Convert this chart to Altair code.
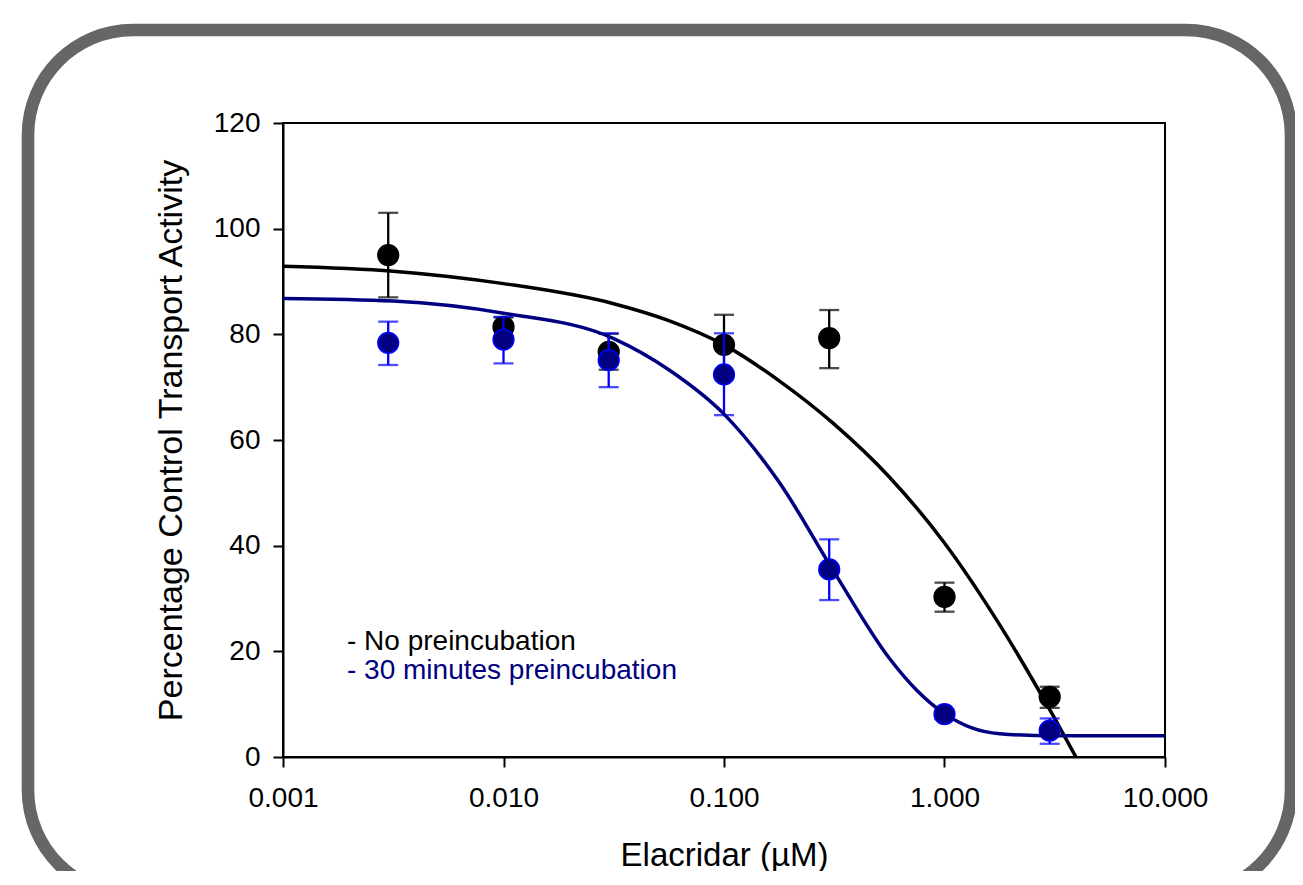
import altair as alt
import pandas as pd

# ---- data ----
conc = [0.003, 0.01, 0.03, 0.1, 0.3, 1.0, 3.0]

no_pre_mean = [95.0, 81.4, 76.7, 78.0, 79.3, 30.3, 11.4]
no_pre_lo = [87.0, 79.6, 73.3, 72.3, 73.6, 27.5, 9.3]
no_pre_hi = [103.0, 83.2, 80.1, 83.7, 84.6, 33.0, 13.3]

pre30_mean = [78.4, 79.0, 75.1, 72.4, 35.5, 8.1, 5.0]
pre30_lo = [74.2, 74.5, 70.0, 64.7, 29.7, 7.3, 2.5]
pre30_hi = [82.4, 83.3, 80.2, 80.2, 41.2, 8.9, 7.3]

# fitted curves at roughly quarter-decade steps
fit_no_pre_x = [0.001, 0.00316, 0.01, 0.0316, 0.0562, 0.1, 0.178, 0.316, 0.562, 1.0, 1.78, 3.16, 3.98]
fit_no_pre_y = [92.9, 91.95, 89.6, 85.8, 82.6, 78.0, 71.2, 63.0, 53.0, 40.5, 25.0, 7.3, -0.3]

fit_pre30_x = [0.001, 0.00316, 0.01, 0.0316, 0.0562, 0.1, 0.178, 0.316, 0.562, 0.75, 1.0, 1.33, 1.78, 3.16, 10.0]
fit_pre30_y = [86.8, 86.3, 84.0, 79.2, 73.3, 64.9, 52.0, 35.0, 18.7, 12.6, 8.2, 5.5, 4.4, 4.0, 4.0]

x_ticks = [0.001, 0.01, 0.1, 1, 10]
y_ticks = [0, 20, 40, 60, 80, 100, 120]

legend_labels = ["- No preincubation", "- 30 minutes preincubation"]
x_title = "Elacridar (µM)"
y_title = "Percentage Control Transport Activity"

FONT = "Liberation Sans"

xscale = alt.Scale(type="log", domain=[0.001, 10], nice=False)
yscale = alt.Scale(domain=[0, 120], nice=False, zero=False)

xaxis = alt.Axis(values=x_ticks, format=".3f", labelFlush=False, labelOverlap=False,
                 labelPadding=17, titleX=441, titleY=108, titleBaseline="alphabetic",
                 titleFontSize=33, grid=False)
yaxis = alt.Axis(values=y_ticks, labelPadding=13, titleX=-102, titleY=317,
                 titleBaseline="alphabetic", grid=False)


def X(field):
    return alt.X(f"{field}:Q", scale=xscale, axis=xaxis, title=x_title)


def Y(field):
    return alt.Y(f"{field}:Q", scale=yscale, axis=yaxis, title=y_title)


def series(x, m, lo, hi, fill, stroke, err):
    df = pd.DataFrame({"x": x, "m": m, "lo": lo, "hi": hi})
    base = alt.Chart(df)
    stems = base.mark_rule(color=err, strokeWidth=2.3).encode(x=X("x"), y=Y("lo"), y2="hi:Q")
    cap_lo = base.mark_tick(color=err, size=20, thickness=2.3, orient="horizontal").encode(x=X("x"), y=Y("lo"))
    cap_hi = base.mark_tick(color=err, size=20, thickness=2.3, orient="horizontal").encode(x=X("x"), y=Y("hi"))
    pts = base.mark_circle(size=430, fill=fill, stroke=stroke, strokeWidth=1.5, opacity=1).encode(
        x=X("x"), y=Y("m"))
    return [stems, cap_lo, cap_hi, pts]


def curve(xs, ys, color):
    df = pd.DataFrame({"x": xs, "y": ys})
    return alt.Chart(df).mark_line(color=color, strokeWidth=3.5, interpolate="monotone", clip=True).encode(
        x=X("x"), y=Y("y"))


frame = alt.Chart(pd.DataFrame({"a": [0]})).mark_rect(
    filled=False, fillOpacity=0, stroke="#666666", strokeWidth=12.6, cornerRadius=105
).encode(x=alt.value(-255), x2=alt.value(1008), y=alt.value(-93), y2=alt.value(772))

leg1 = alt.Chart(pd.DataFrame({"t": [legend_labels[0]]})).mark_text(
    align="left", baseline="alphabetic", font=FONT, fontSize=28, color="black"
).encode(x=alt.value(64), y=alt.value(527), text="t:N")
leg2 = alt.Chart(pd.DataFrame({"t": [legend_labels[1]]})).mark_text(
    align="left", baseline="alphabetic", font=FONT, fontSize=28, color="#000080"
).encode(x=alt.value(64), y=alt.value(556), text="t:N")

layers = (
    [frame]
    + series(conc, no_pre_mean, no_pre_lo, no_pre_hi, "black", "black", "black")
    + [curve(fit_no_pre_x, fit_no_pre_y, "black")]
    + series(conc, pre30_mean, pre30_lo, pre30_hi, "#000080", "#0000ff", "#0000ff")
    + [curve(fit_pre30_x, fit_pre30_y, "#000080"), leg1, leg2]
)

chart = alt.layer(*layers).properties(
    width=882, height=634,
    autosize=alt.AutoSizeParams(type="none"),
    padding={"left": 275, "top": 115, "right": 130, "bottom": 114},
    background="white",
).configure_view(
    stroke="black", strokeWidth=2
).configure_axis(
    domainColor="black", domainWidth=2, tickColor="black", tickWidth=2, tickSize=10,
    labelFont=FONT, labelFontSize=28, labelColor="black",
    titleFont=FONT, titleFontSize=34, titleFontWeight="normal", titleColor="black",
)

chart.save("out.html", embed_options={"renderer": "svg", "actions": False})
